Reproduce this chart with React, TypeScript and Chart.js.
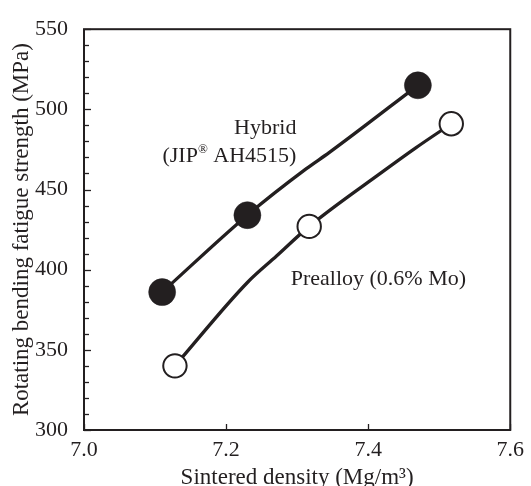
import React, { useEffect, useRef } from 'react';
import { Chart, registerables } from 'chart.js';

Chart.register(...registerables);

// Measured points
const hybridDensity = [7.11, 7.23, 7.47];
const hybridStrength = [386, 434, 515];
const preDensity = [7.128, 7.317, 7.517];
const preStrength = [340, 427, 491];

// Hand-drawn trend curves through the points
const hybridCurveX = [7.11, 7.23, 7.313, 7.345, 7.47];
const hybridCurveY = [386, 434, 463, 473, 515];
const preCurveX = [7.128, 7.23, 7.271, 7.317, 7.42, 7.467, 7.517];
const preCurveY = [340, 392, 408.5, 427, 461, 476, 491];

const xTickValues = [7.0, 7.2, 7.4, 7.6];
const yTickValues = [300, 310, 320, 330, 340, 350, 360, 370, 380, 390, 400, 410, 420, 430, 440, 450, 460, 470, 480, 490, 500, 510, 520, 530, 540, 550];
const yMajorStep = 50;

const INK = '#231f20';
const FONT = "'Liberation Serif', 'Times New Roman', serif";

const toXY = (xs: number[], ys: number[]) => xs.map((x, i) => ({ x, y: ys[i] }));

const framePlugin = {
  id: 'frame',
  afterDraw(chart: any) {
    const { ctx, chartArea: a, scales } = chart;
    const xs = scales.x;
    const ys = scales.y;
    ctx.save();
    ctx.strokeStyle = INK;
    ctx.lineWidth = 2;
    ctx.strokeRect(a.left, a.top, a.right - a.left, a.bottom - a.top);
    ctx.lineWidth = 1.3;
    ys.ticks.forEach((t: any) => {
      const py = Math.round(ys.getPixelForValue(t.value)) + 0.5;
      const len = t.value % yMajorStep === 0 ? 7 : 5;
      ctx.beginPath();
      ctx.moveTo(a.left, py);
      ctx.lineTo(a.left + len, py);
      ctx.stroke();
    });
    xs.ticks.forEach((t: any) => {
      const px = Math.round(xs.getPixelForValue(t.value)) + 0.5;
      ctx.beginPath();
      ctx.moveTo(px, a.bottom);
      ctx.lineTo(px, a.bottom - 6);
      ctx.stroke();
    });
    ctx.restore();
  },
  afterDatasetsDraw(chart: any) {
    const { ctx, scales } = chart;
    const xs = scales.x;
    const ys = scales.y;
    ctx.save();
    ctx.fillStyle = INK;
    ctx.textBaseline = 'middle';
    const big = `22px ${FONT}`;
    const small = `13px ${FONT}`;
    const rx = xs.getPixelForValue(7.299);
    ctx.font = big;
    ctx.textAlign = 'right';
    ctx.fillText('Hybrid', rx, ys.getPixelForValue(488));
    const y2 = ys.getPixelForValue(471);
    const partA = '(JIP';
    const partB = '\u00AE';
    const partC = ' AH4515)';
    ctx.font = big;
    const wA = ctx.measureText(partA).width;
    const wC = ctx.measureText(partC).width;
    ctx.font = small;
    const wB = ctx.measureText(partB).width;
    const start = rx - (wA + wB + wC);
    ctx.textAlign = 'left';
    ctx.font = big;
    ctx.fillText(partA, start, y2);
    ctx.font = small;
    ctx.fillText(partB, start + wA, y2 - 6);
    ctx.font = big;
    ctx.fillText(partC, start + wA + wB, y2);
    ctx.fillText('Prealloy (0.6% Mo)', xs.getPixelForValue(7.291), ys.getPixelForValue(394));
    ctx.restore();
  },
};

export default function App() {
  const ref = useRef<HTMLCanvasElement>(null);
  useEffect(() => {
    document.body.style.margin = '0';
    const canvas = ref.current;
    if (!canvas) return;
    const chart = new Chart(canvas, {
      type: 'scatter',
      data: {
        datasets: [
          {
            type: 'line',
            data: toXY(hybridCurveX, hybridCurveY),
            borderColor: INK,
            borderWidth: 3.3,
            pointRadius: 0,
            cubicInterpolationMode: 'monotone',
            fill: false,
            order: 2,
          } as any,
          {
            type: 'line',
            data: toXY(preCurveX, preCurveY),
            borderColor: INK,
            borderWidth: 3.3,
            pointRadius: 0,
            cubicInterpolationMode: 'monotone',
            fill: false,
            order: 2,
          } as any,
          {
            label: 'Hybrid (JIP® AH4515)',
            data: toXY(hybridDensity, hybridStrength),
            pointRadius: 13.5,
            pointBackgroundColor: INK,
            pointBorderColor: INK,
            pointBorderWidth: 0.5,
            order: 1,
          },
          {
            label: 'Prealloy (0.6% Mo)',
            data: toXY(preDensity, preStrength),
            pointRadius: 11.7,
            pointBackgroundColor: '#ffffff',
            pointBorderColor: INK,
            pointBorderWidth: 2,
            order: 1,
          },
        ],
      },
      options: {
        animation: false,
        responsive: false,
        layout: { padding: { left: 0, top: 22, right: 19, bottom: 0 } },
        plugins: { legend: { display: false }, tooltip: { enabled: false } },
        scales: {
          x: {
            type: 'linear',
            min: 7.0,
            max: 7.6,
            grid: { display: false, drawTicks: false },
            border: { display: false },
            afterBuildTicks: (s: any) => {
              s.ticks = xTickValues.map((v) => ({ value: v }));
            },
            afterFit: (s: any) => {
              s.height = 56;
            },
            ticks: {
              color: INK,
              font: { family: FONT, size: 22 },
              padding: 7,
              maxRotation: 0,
              callback: (v: any) => Number(v).toFixed(1),
            },
            title: {
              display: true,
              text: 'Sintered density (Mg/m\u00B3)',
              color: INK,
              font: { family: FONT, size: 23, lineHeight: 0.7 },
              padding: 0,
            },
          },
          y: {
            type: 'linear',
            min: 300,
            max: 550,
            grid: { display: false, drawTicks: false },
            border: { display: false },
            afterBuildTicks: (s: any) => {
              s.ticks = yTickValues.map((v) => ({ value: v }));
            },
            afterFit: (s: any) => {
              s.width = 84;
            },
            ticks: {
              color: INK,
              font: { family: FONT, size: 22 },
              padding: 16,
              autoSkip: false,
              callback: (v: any) => (Number(v) % yMajorStep === 0 ? String(v) : ''),
            },
            title: {
              display: true,
              text: 'Rotating bending fatigue strength (MPa)',
              color: INK,
              font: { family: FONT, size: 23, lineHeight: 1.2 },
              padding: { top: 8, bottom: 0 },
            },
          },
        },
      },
      plugins: [framePlugin],
    });
    return () => chart.destroy();
  }, []);
  return (
    <div style={{ width: 531, height: 486 }}>
      <canvas ref={ref} width={531} height={486} style={{ width: 531, height: 486, display: 'block' }} />
    </div>
  );
}
